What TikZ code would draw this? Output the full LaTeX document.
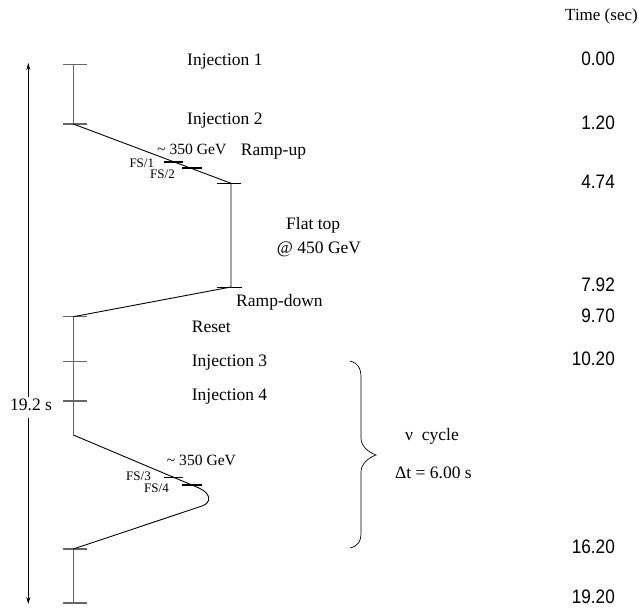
\documentclass[tikz,border=0pt]{standalone}
\usepackage{fontspec}
\setmainfont{Liberation Serif}
\newfontfamily\numfont[FakeStretch=0.88]{Liberation Sans}
\usetikzlibrary{arrows.meta}
\tikzset{
  lbl/.style={anchor=base west,inner sep=0pt,font=\fontsize{17.5}{20}\selectfont},
  gevlbl/.style={anchor=base west,inner sep=0pt,font=\fontsize{15.6}{18}\selectfont},
  fslbl/.style={anchor=base west,inner sep=0pt,font=\fontsize{13}{15}\selectfont},
  num/.style={anchor=base east,inner sep=0pt,font=\numfont\fontsize{19.5}{22}\selectfont},
  grayline/.style={draw=black!60,line width=1.25pt},
  blackline/.style={draw=black,line width=0.9pt},
  fsbar/.style={draw=black,line width=1.5pt},
  timearrow/.style={draw=black,line width=0.9pt,-{Stealth[length=7pt,width=4pt]}}
}
\begin{document}
\begin{tikzpicture}[x=1pt,y=-1pt]
\useasboundingbox (0,0) rectangle (639,610);

% key points of the cycle
\coordinate (p0) at (73.3,64.3);
\coordinate (p1) at (73.3,124);
\coordinate (p2) at (231,183.3);
\coordinate (p3) at (231,287);
\coordinate (p4) at (73.3,316.7);
\coordinate (p5) at (73.3,361.7);
\coordinate (p6) at (73.3,401);
\coordinate (p7) at (73.3,435);
\coordinate (p8) at (199,488);
\coordinate (p9) at (202,506);
\coordinate (p10) at (73.3,549);
\coordinate (p11) at (73.3,603);

% vertical injection segments
\draw[grayline] (p0) -- (p1);
\draw[grayline] (p4) -- (p5) -- (p6) -- (p7);
\draw[grayline] (p10) -- (p11);

% ticks
\foreach \p in {p0,p1,p4,p5,p6,p10,p11}{
  \draw[grayline] ([xshift=-10pt]\p) -- ([xshift=14pt]\p);
}
\draw[blackline] ([xshift=-14.3pt]p2) -- ([xshift=9.7pt]p2);
\draw[blackline] ([xshift=-14.3pt]p3) -- ([xshift=11pt]p3);

% ramps
\draw[blackline] (p1) -- (p2) -- (p3) -- (p4);
\draw[blackline] (p7) -- (p8) .. controls (212,494) and (211,503) .. (p9) -- (p10);

% FS bars
\coordinate (fs1a) at (164,162); \coordinate (fs1b) at (183,162);
\coordinate (fs2a) at (182,168); \coordinate (fs2b) at (202,168);
\coordinate (fs3a) at (164,477.3); \coordinate (fs3b) at (183,477.3);
\coordinate (fs4a) at (182,485); \coordinate (fs4b) at (202,485);
\draw[fsbar] (fs1a) -- (fs1b);
\draw[fsbar] (fs2a) -- (fs2b);
\draw[fsbar] (fs3a) -- (fs3b);
\draw[fsbar] (fs4a) -- (fs4b);

% total time arrow
\node[lbl] (total) at (10,410.7) {19.2 s};
\coordinate (ta) at (28.3,397);
\coordinate (tb) at (28.3,63);
\coordinate (tc) at (28.3,418);
\coordinate (td) at (28.3,604);
\draw[timearrow] (ta) -- (tb);
\draw[timearrow] (tc) -- (td);

% brace
\coordinate (br1) at (350,361);
\coordinate (br2) at (376,455);
\coordinate (br3) at (350,548);
\draw[black,line width=0.7pt] (br1) .. controls (358,363) and (361,368) .. (361,378)
  -- (361,438) .. controls (361,446) and (368,452) .. (br2)
  .. controls (368,458) and (361,464) .. (361,472)
  -- (361,532) .. controls (361,542) and (358,546) .. (br3);

% labels
\node[lbl] (inj1) at (187,66) {Injection 1};
\node[lbl] (inj2) at (187,124.5) {Injection 2};
\node[gevlbl] (gev1) at (157,154) {\textasciitilde{} 350 GeV};
\node[lbl] (rampup) at (240.7,155) {Ramp-up};
\node[fslbl] (fs1) at (129.3,167.3) {FS/1};
\node[fslbl] (fs2) at (150,178) {FS/2};
\node[lbl] (flat) at (286,229) {Flat top};
\node[lbl] (at450) at (276.7,253.3) {@ 450 GeV};
\node[lbl] (rampdown) at (236,306) {Ramp-down};
\node[lbl] (reset) at (191.7,332) {Reset};
\node[lbl] (inj3) at (191.7,366) {Injection 3};
\node[lbl] (inj4) at (191.7,400) {Injection 4};
\node[gevlbl] (gev2) at (166.7,465) {\textasciitilde{} 350 GeV};
\node[fslbl] (fs3) at (126,480.7) {FS/3};
\node[fslbl] (fs4) at (144,492.7) {FS/4};
\node[lbl] (nu) at (405,440) {ν\ \ cycle};
\node[lbl] (dt) at (395,478) {Δt = 6.00 s};

% time column
\node[anchor=base west,inner sep=0pt,font=\fontsize{17}{20}\selectfont] (time) at (565,20.7) {Time (sec)};
\node[num] (t0) at (615,65.7) {0.00};
\node[num] (t1) at (615,129.3) {1.20};
\node[num] (t2) at (615,188.3) {4.74};
\node[num] (t3) at (615,291.7) {7.92};
\node[num] (t4) at (615,322.7) {9.70};
\node[num] (t5) at (615,365) {10.20};
\node[num] (t6) at (615,553) {16.20};
\node[num] (t7) at (615,603) {19.20};
\end{tikzpicture}
\end{document}
